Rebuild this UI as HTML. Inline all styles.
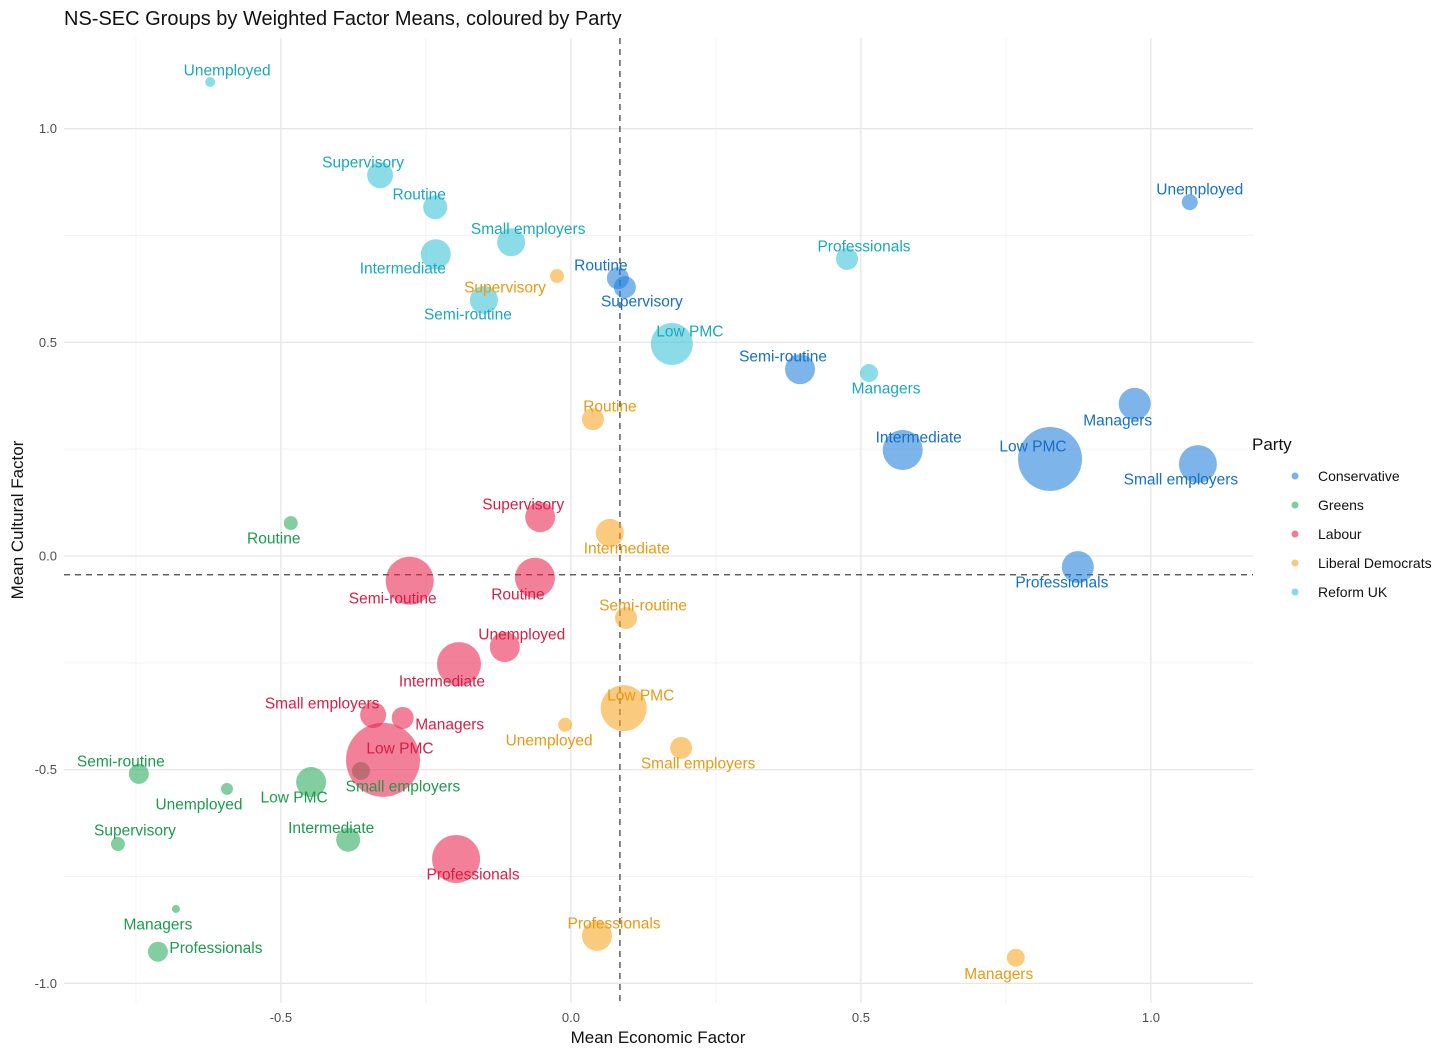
<!DOCTYPE html>
<html><head><meta charset="utf-8"><style>
html,body{margin:0;padding:0;background:#fff;}
svg{display:block;font-family:"Liberation Sans",Arial,sans-serif;}
</style></head><body>
<svg id="chart" width="1456" height="1055" viewBox="0 0 1456 1055">
<text x="64" y="25" font-size="20" fill="#111">NS-SEC Groups by Weighted Factor Means, coloured by Party</text>
<g id="grid"></g>
<g id="marks"></g>
<g id="labels"></g>
<text x="658" y="1043" font-size="17" text-anchor="middle" fill="#111">Mean Economic Factor</text>
<text transform="translate(23,520) rotate(-90)" font-size="17" text-anchor="middle" fill="#111">Mean Cultural Factor</text>
<g id="legend"></g>
</svg>
<script>
const parties = ["Conservative","Greens","Labour","Liberal Democrats","Reform UK"];
const groups = ["Unemployed","Supervisory","Routine","Small employers","Intermediate","Semi-routine","Low PMC","Professionals","Managers"];
// economic x per party, in order of groups
const econ = {
 "Reform UK":        [-0.622,-0.329,-0.234,-0.103,-0.233,-0.150,0.174,0.476,0.514],
 "Conservative":     [1.067,0.093,0.081,1.081,0.572,0.395,0.826,0.874,0.972],
 "Liberal Democrats":[-0.010,-0.024,0.038,0.190,0.067,0.095,0.091,0.045,0.767],
 "Labour":           [-0.114,-0.053,-0.062,-0.341,-0.193,-0.278,-0.324,-0.198,-0.290],
 "Greens":           [-0.593,-0.781,-0.483,-0.362,-0.384,-0.745,-0.448,-0.712,-0.681]
};
const cult = {
 "Reform UK":        [1.109,0.891,0.816,0.734,0.706,0.599,0.496,0.695,0.428],
 "Conservative":     [0.828,0.629,0.650,0.215,0.248,0.437,0.227,-0.026,0.356],
 "Liberal Democrats":[-0.395,0.655,0.320,-0.449,0.054,-0.145,-0.356,-0.889,-0.940],
 "Labour":           [-0.213,0.091,-0.051,-0.372,-0.253,-0.058,-0.477,-0.709,-0.379],
 "Greens":           [-0.545,-0.674,0.077,-0.503,-0.664,-0.510,-0.529,-0.926,-0.826]
};
const weights = {
 "Reform UK":        [25,169,144,196,225,196,441,121,81],
 "Conservative":     [64,121,121,361,400,225,1024,256,256],
 "Liberal Democrats":[49,49,121,121,196,121,529,225,81],
 "Labour":           [225,225,400,169,484,576,1369,576,121],
 "Greens":           [36,49,49,81,144,100,225,100,16]
};
const xTicks = [-0.5,0,0.5,1];
const xTickLabels = ["-0.5","0.0","0.5","1.0"];
const yTicks = [-1,-0.5,0,0.5,1];
const yTickLabels = ["-1.0","-0.5","0.0","0.5","1.0"];
const refX = 0.0845, refY = -0.044;

const fill = {"Conservative":"#1f80dc","Greens":"#2aaa5c","Labour":"#e8254f","Liberal Democrats":"#f6a623","Reform UK":"#38c2d8"};
const txt = {"Conservative":"#1670c4","Greens":"#1e9a4e","Labour":"#d51f46","Liberal Democrats":"#e99a12","Reform UK":"#1aa8bf"};
const labelOffsets = {
 "Reform UK":        [[17,-12],[-17,-13],[-16,-13],[17,-14],[-33,14],[-16,14],[18,-13],[17,-13],[17,15]],
 "Conservative":     [[10,-13],[17,14],[-17,-13],[-17,15],[16,-13],[-17,-13],[-17,-13],[-16,15],[-17,16]],
 "Liberal Democrats":[[-16,15],[-52,11],[17,-13],[17,15],[17,15],[17,-13],[17,-13],[17,-13],[-17,16]],
 "Labour":           [[17,-13],[-17,-13],[-17,16],[-51,-12],[-17,17],[-17,17],[17,-12],[17,15],[47,6]],
 "Greens":           [[-28,15],[17,-14],[-17,15],[42,15],[-17,-12],[-18,-13],[-17,15],[58,-4],[-18,15]]
};
const X0=64,X1=1253,Y0=38,Y1=1003, XMIN=-0.874,XMAX=1.176,YMIN=-1.046,YMAX=1.212;
const sx=v=>X0+(v-XMIN)/(XMAX-XMIN)*(X1-X0);
const sy=v=>Y1-(v-YMIN)/(YMAX-YMIN)*(Y1-Y0);
const NS="http://www.w3.org/2000/svg";
function mk(tag,attrs,parent){const e=document.createElementNS(NS,tag);for(const k in attrs)e.setAttribute(k,attrs[k]);parent.appendChild(e);return e;}
const grid=document.getElementById('grid');
[-0.75,-0.25,0.25,0.75].forEach(v=>{
 let l=mk('line',{x1:sx(v),x2:sx(v),y1:Y0,y2:Y1,stroke:'#f2f2f2','stroke-width':1},grid);
 
 
 l=mk('line',{x1:X0,x2:X1,y1:sy(v),y2:sy(v),stroke:'#f2f2f2','stroke-width':1},grid);
 
 
});
xTicks.forEach((v,i)=>{
 const l=mk('line',{x1:sx(v),x2:sx(v),y1:Y0,y2:Y1,stroke:'#e6e6e6','stroke-width':1.3},grid);
 
 
 const t=mk('text',{x:sx(v),y:1022,'font-size':13,'text-anchor':'middle',fill:'#4d4d4d'},grid);
 t.textContent=xTickLabels[i];
 
 
});
yTicks.forEach((v,i)=>{
 const l=mk('line',{x1:X0,x2:X1,y1:sy(v),y2:sy(v),stroke:'#e6e6e6','stroke-width':1.3},grid);
 
 
 const t=mk('text',{x:57,y:sy(v)+4.5,'font-size':13,'text-anchor':'end',fill:'#4d4d4d'},grid);
 t.textContent=yTickLabels[i];
 
 
});
const marks=document.getElementById('marks'), labels=document.getElementById('labels');
let rv=mk('line',{x1:sx(refX),x2:sx(refX),y1:Y0,y2:Y1,stroke:'#444','stroke-width':1.3,'stroke-dasharray':'6,5'},marks);


let rh=mk('line',{x1:X0,x2:X1,y1:sy(refY),y2:sy(refY),stroke:'#444','stroke-width':1.3,'stroke-dasharray':'6,5'},marks);


["Greens","Labour","Liberal Democrats","Reform UK","Conservative"].forEach(p=>{
 groups.forEach((g,i)=>{
  const cx=sx(econ[p][i]), cy=sy(cult[p][i]), r=Math.sqrt(weights[p][i]);
  const c=mk('circle',{cx:cx,cy:cy,r:r,fill:fill[p],'fill-opacity':0.58},marks);
  
  
  const o=labelOffsets[p][i];
  const t=mk('text',{x:cx+o[0],y:cy+o[1]+5.5,'font-size':15.5,'text-anchor':'middle',fill:txt[p]},labels);
  t.textContent=g;
  
  
 });
});
const lg=document.getElementById('legend');
const lt=mk('text',{x:1252,y:450,'font-size':17,fill:'#111'},lg);
lt.textContent='Party';


parties.forEach((p,i)=>{
 const y=476+i*29;
 const c=mk('circle',{cx:1295,cy:y,r:3.5,fill:fill[p],'fill-opacity':0.6},lg);
 
 
 const t=mk('text',{x:1318,y:y+5,'font-size':14,fill:'#111'},lg);
 t.textContent=p;
 
 
});
</script>
</body></html>
